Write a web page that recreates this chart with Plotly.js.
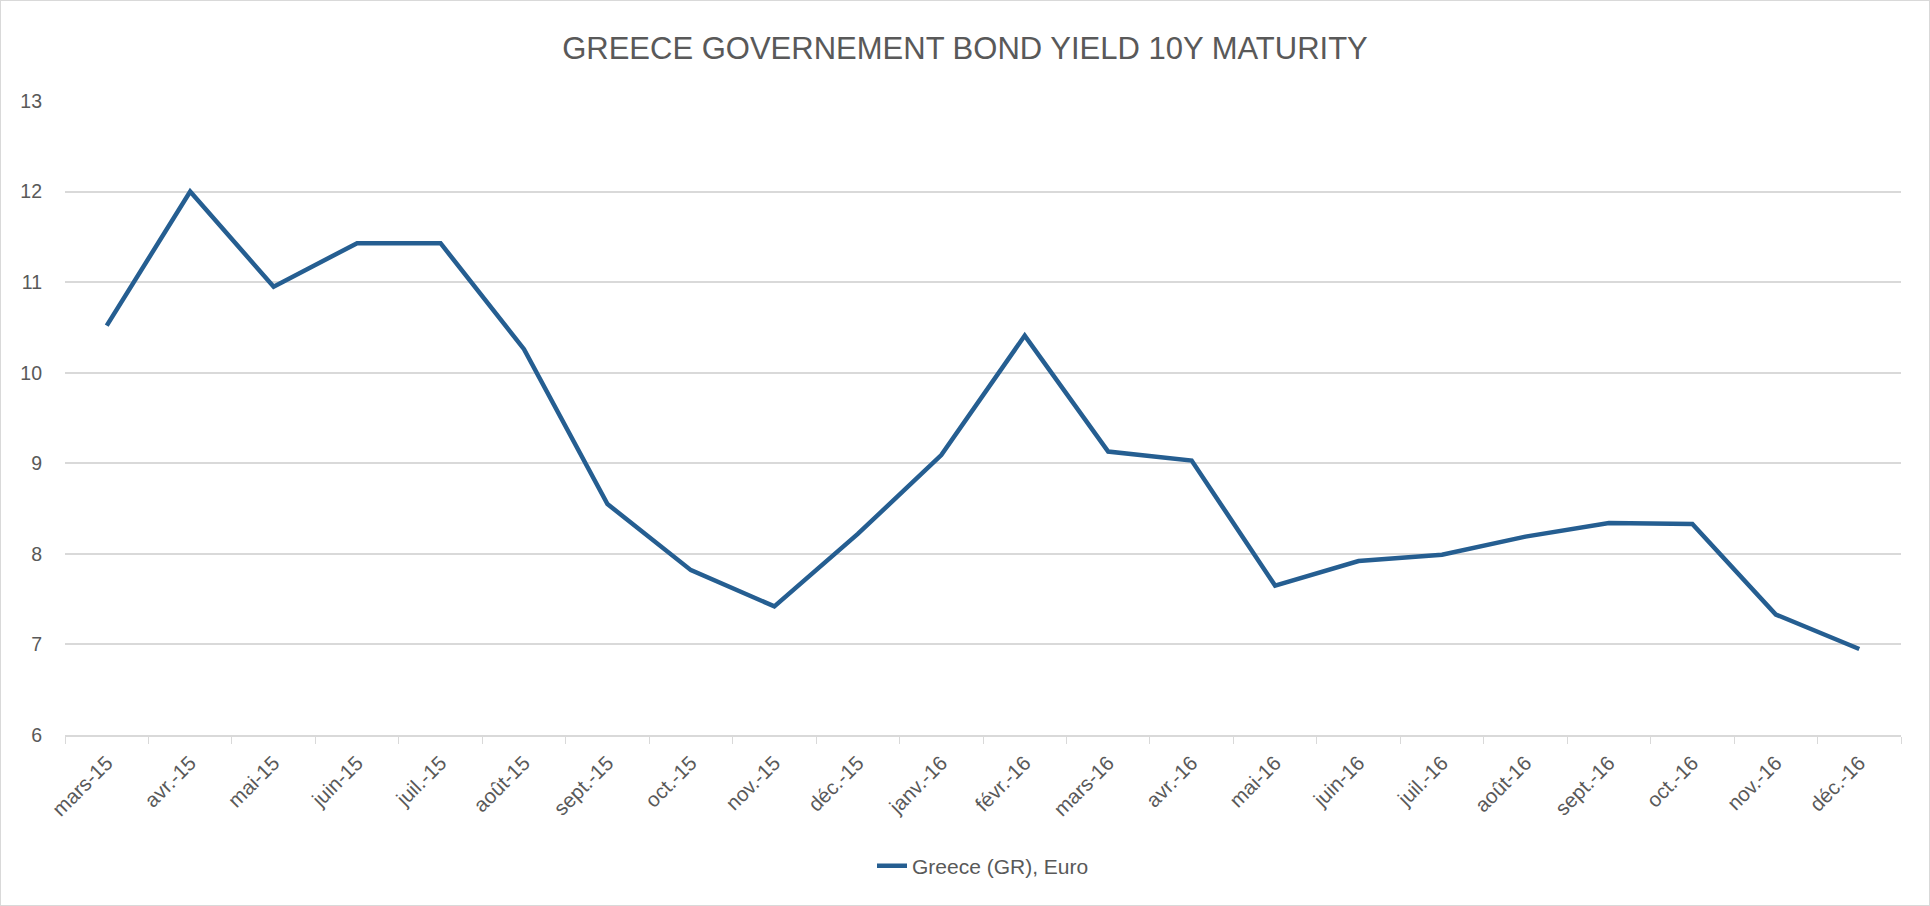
<!DOCTYPE html>
<html>
<head>
<meta charset="utf-8">
<script src="https://cdn.plot.ly/plotly-3.0.1.min.js"></script>
<style>
  html, body { margin: 0; padding: 0; background: #fff; }
  #chart { width: 1930px; height: 906px; box-sizing: border-box; border: 1px solid #d9d9d9; }
</style>
</head>
<body>
<div id="chart"></div>
<script>
const months = ["mars-15","avr.-15","mai-15","juin-15","juil.-15","août-15","sept.-15","oct.-15","nov.-15","déc.-15","janv.-16","févr.-16","mars-16","avr.-16","mai-16","juin-16","juil.-16","août-16","sept.-16","oct.-16","nov.-16","déc.-16"];
const yields = [10.52, 12.0, 10.95, 11.43, 11.43, 10.26, 8.55, 7.82, 7.42, 8.22, 9.09, 10.41, 9.13, 9.03, 7.65, 7.92, 7.99, 8.19, 8.34, 8.33, 7.33, 6.95];
const seriesName = "Greece (GR), Euro";
const chartTitle = "GREECE GOVERNEMENT BOND YIELD 10Y MATURITY";

const textColor = "#595959";
const gridColor = "#d9d9d9";
const font = "Liberation Sans Narrow, Arial Narrow, Liberation Sans, sans-serif";

Plotly.newPlot("chart", [{
  x: months,
  y: yields,
  type: "scatter",
  mode: "lines",
  name: seriesName,
  line: { color: "#255e91", width: 4.5 }
}], {
  width: 1928,
  height: 904,
  margin: { l: 64, r: 28, t: 100, b: 170 },
  paper_bgcolor: "#ffffff",
  plot_bgcolor: "#ffffff",
  title: {
    text: chartTitle,
    font: { family: font, size: 31, color: textColor },
    x: 0.5, xanchor: "center",
    y: 1 - 47 / 904, yanchor: "middle"
  },
  xaxis: {
    type: "category",
    tickangle: -45,
    tickfont: { family: "Liberation Sans, sans-serif", size: 20.5, color: textColor },
    showgrid: false,
    showline: true,
    linecolor: gridColor,
    linewidth: 1.5,
    ticks: "outside",
    tickson: "boundaries",
    ticklen: 7,
    tickcolor: gridColor,
    tickwidth: 1,
    zeroline: false,
    ticklabelstandoff: 6,
    range: [-0.5, months.length - 0.5]
  },
  yaxis: {
    range: [6, 13],
    dtick: 1,
    tick0: 6,
    showgrid: true,
    gridcolor: gridColor,
    gridwidth: 1.5,
    zeroline: false,
    showline: false,
    tickfont: { family: "Liberation Sans, sans-serif", size: 19.5, color: textColor },
    ticklabelstandoff: 22
  },
  showlegend: true,
  legend: {
    orientation: "h",
    x: 0.5, xanchor: "center",
    y: -(865 - 100 - 634) / 634 , yanchor: "middle",
    font: { family: "Liberation Sans, sans-serif", size: 21, color: textColor }
  }
}, { displayModeBar: false });
</script>
</body>
</html>
